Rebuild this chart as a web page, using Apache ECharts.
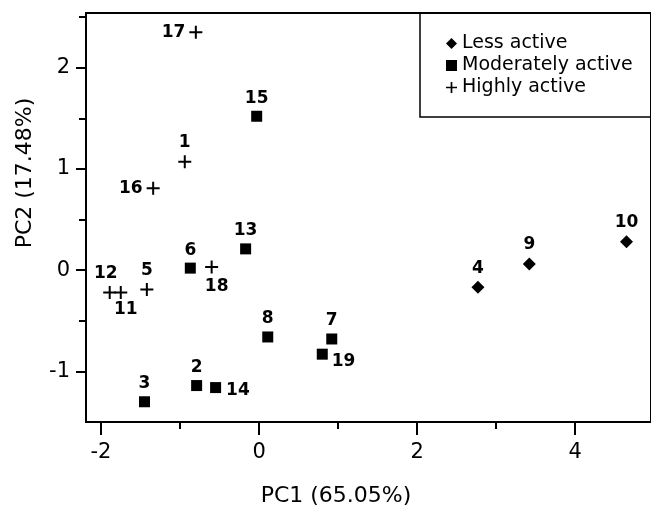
<!DOCTYPE html>
<html>
<head>
<meta charset="utf-8">
<script src="https://cdn.jsdelivr.net/npm/echarts@6.0.0/dist/echarts.min.js"></script>
<style>
  html, body { margin: 0; padding: 0; background: #fff; }
  #chart { width: 651px; height: 512px; }
</style>
</head>
<body>
<div id="chart"></div>
<script>
// Less active
var lessIds = ['4', '9', '10'];
var lessX = [2.77, 3.42, 4.65];
var lessY = [-0.17, 0.06, 0.28];

// Moderately active
var modIds = ['15', '13', '6', '8', '7', '19', '2', '14', '3'];
var modX = [-0.03, -0.17, -0.87, 0.11, 0.92, 0.80, -0.79, -0.55, -1.45];
var modY = [1.52, 0.21, 0.02, -0.66, -0.68, -0.83, -1.14, -1.16, -1.30];

// Highly active
var highIds = ['17', '1', '16', '18', '12', '11', '5'];
var highX = [-0.80, -0.94, -1.34, -0.60, -1.89, -1.75, -1.42];
var highY = [2.35, 1.07, 0.81, 0.03, -0.22, -0.22, -0.19];

var xMajor = [-2, 0, 2, 4];
var xMinor = [-1, 1, 3];
var yMajor = [-1, 0, 1, 2];
var yMinor = [-0.5, 0.5, 1.5, 2.5];

// where each point's number sits (default above)
var labelPlace = {
    '17': {position: 'left'},
    '16': {position: 'left'},
    '18': {position: 'bottom', offset: [5, 0]},
    '19': {position: 'right', offset: [0, 7]},
    '14': {position: 'right', offset: [1, 3]},
    '12': {position: 'top', offset: [-4, 0]},
    '11': {position: 'bottom', offset: [5, 0], distance: 2}
};

var FONT = 'DejaVu Sans';
var plusPath = 'path://M5.5,0h2v5.5h5.5v2h-5.5v5.5h-2v-5.5h-5.5v-2h5.5z';

function points(ids, xs, ys) {
    var out = [];
    for (var i = 0; i < ids.length; i++) {
        var item = {name: ids[i], value: [xs[i], ys[i]]};
        if (labelPlace[ids[i]]) item.label = labelPlace[ids[i]];
        out.push(item);
    }
    return out;
}

var pointLabel = {
    show: true,
    position: 'top',
    distance: 4,
    formatter: '{b}',
    color: '#000',
    fontFamily: FONT,
    fontWeight: 'bold',
    fontSize: 17
};

var chart = echarts.init(document.getElementById('chart'), null, {renderer: 'canvas'});
chart.setOption({
    animation: false,
    backgroundColor: '#fff',
    textStyle: {fontFamily: FONT},
    grid: {
        left: 86, right: -2, top: 13, bottom: 90,
        show: true, borderColor: '#000', borderWidth: 2, backgroundColor: 'transparent'
    },
    graphic: [{
        type: 'rect',
        z: 0,
        shape: {x: 420, y: 13, width: 260, height: 104},
        style: {fill: 'none', stroke: '#000', lineWidth: 1.5}
    }],
    legend: {
        orient: 'vertical',
        left: 446,
        top: 34,
        itemWidth: 11,
        itemHeight: 11,
        itemGap: 3,
        padding: 0,
        textStyle: {fontFamily: FONT, fontSize: 19, lineHeight: 19, color: '#000'},
        data: ['Less active', 'Moderately active', 'Highly active']
    },
    xAxis: [{
        type: 'value',
        position: 'bottom',
        min: -2.19, max: 4.96,
        name: 'PC1 (65.05%)',
        nameLocation: 'middle',
        nameGap: 63,
        nameTextStyle: {fontFamily: FONT, fontSize: 22, color: '#000', padding: [0, 65, 0, 0]},
        splitLine: {show: false},
        axisLine: {show: true, onZero: false, lineStyle: {color: '#000', width: 2}},
        axisTick: {show: true, length: 13, lineStyle: {color: '#000', width: 2}, customValues: xMajor},
        axisLabel: {show: true, margin: 20, fontSize: 21, color: '#000', fontFamily: FONT, customValues: xMajor}
    }, {
        type: 'value',
        position: 'bottom',
        min: -2.19, max: 4.96,
        splitLine: {show: false},
        axisLine: {show: false, onZero: false},
        axisTick: {show: true, length: 7, lineStyle: {color: '#000', width: 2}, customValues: xMinor},
        axisLabel: {show: false}
    }],
    yAxis: [{
        type: 'value',
        position: 'left',
        min: -1.5, max: 2.54,
        name: 'PC2 (17.48%)',
        nameLocation: 'middle',
        nameGap: 50,
        nameTextStyle: {fontFamily: FONT, fontSize: 22, color: '#000', padding: [0, 0, 0, 89]},
        splitLine: {show: false},
        axisLine: {show: true, onZero: false, lineStyle: {color: '#000', width: 2}},
        axisTick: {show: true, length: 10, lineStyle: {color: '#000', width: 2}, customValues: yMajor},
        axisLabel: {show: true, margin: 16, fontSize: 21, color: '#000', fontFamily: FONT, customValues: yMajor}
    }, {
        type: 'value',
        position: 'left',
        min: -1.5, max: 2.54,
        splitLine: {show: false},
        axisLine: {show: false, onZero: false},
        axisTick: {show: true, length: 7, lineStyle: {color: '#000', width: 2}, customValues: yMinor},
        axisLabel: {show: false}
    }],
    series: [{
        name: 'Less active',
        type: 'scatter',
        symbol: 'diamond',
        symbolSize: 13,
        itemStyle: {color: '#000', opacity: 1},
        label: pointLabel,
        data: points(lessIds, lessX, lessY)
    }, {
        name: 'Moderately active',
        type: 'scatter',
        symbol: 'rect',
        symbolSize: 11,
        itemStyle: {color: '#000', opacity: 1},
        label: pointLabel,
        data: points(modIds, modX, modY)
    }, {
        name: 'Highly active',
        type: 'scatter',
        symbol: plusPath,
        symbolSize: 13,
        itemStyle: {color: '#000', opacity: 1},
        label: pointLabel,
        data: points(highIds, highX, highY)
    }]
});
</script>
</body>
</html>
